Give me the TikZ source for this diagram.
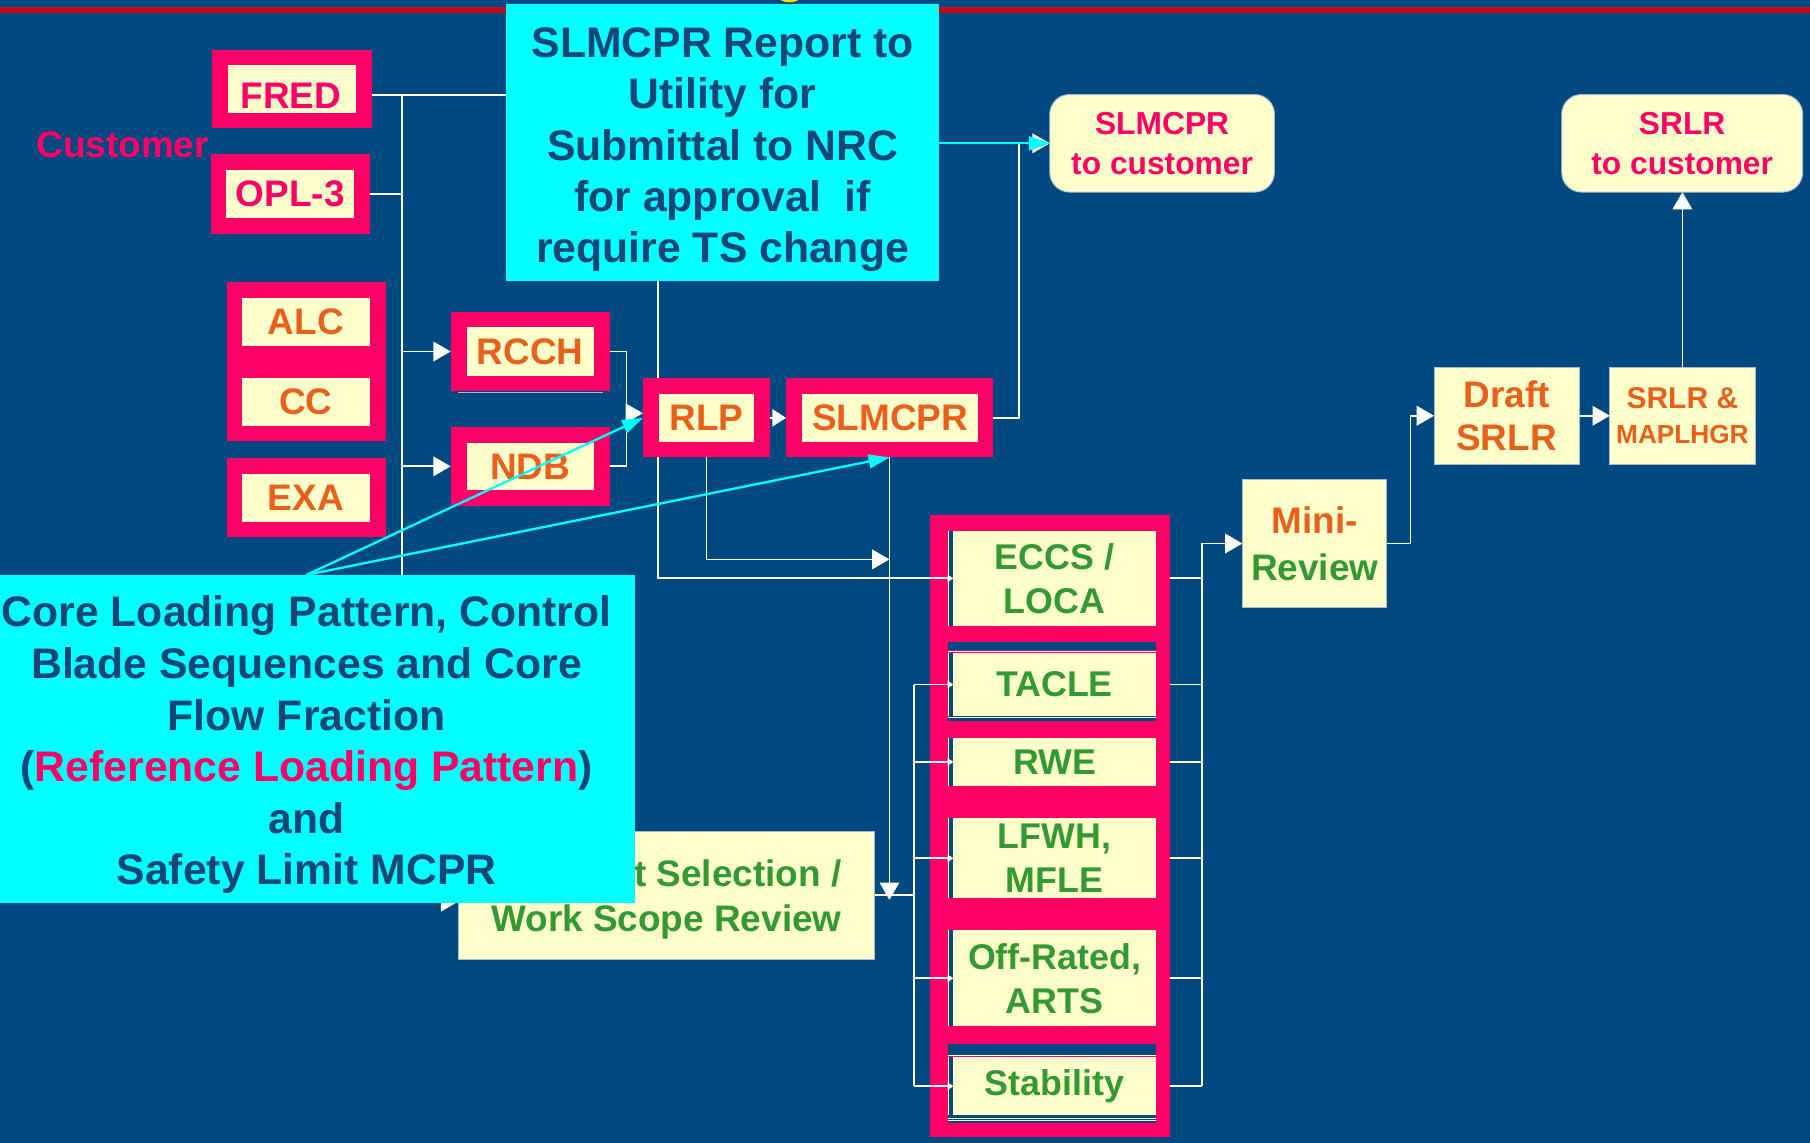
\documentclass[tikz,border=0pt]{standalone}
\usepackage{fontspec}
\setmainfont{Liberation Sans}
\usetikzlibrary{arrows.meta,calc}

\definecolor{bgblue}{RGB}{1,73,128}
\definecolor{hotpink}{RGB}{255,0,102}
\definecolor{cream}{RGB}{255,255,204}
\definecolor{aqua}{RGB}{0,255,255}
\definecolor{navytxt}{RGB}{22,70,118}
\definecolor{orangetxt}{RGB}{232,96,28}
\definecolor{greentxt}{RGB}{51,153,51}
\definecolor{rulered}{RGB}{200,8,20}
\definecolor{edgegray}{RGB}{170,186,206}
\definecolor{sunyellow}{RGB}{255,214,0}

\newcommand\fsz[2]{\fontsize{#1}{#2}\selectfont\bfseries}

\pgfdeclarelayer{base}
\pgfdeclarelayer{wires}
\pgfdeclarelayer{upper}
\pgfsetlayers{base,wires,main,upper}

\begin{document}
\begin{tikzpicture}[x=1pt,y=-1pt,
  pinkframe/.style={fill=hotpink, draw=none, inner sep=0pt, outer sep=0pt, rectangle},
  card/.style={fill=cream, draw=none, inner sep=0pt, outer sep=0pt, rectangle,
    align=center, font=\fsz{32pt}{38pt}},
  cell/.style={card, text=greentxt, font=\fsz{31pt}{38pt}, minimum width=175pt},
  plate/.style={fill=cream, draw=edgegray, line width=0.8pt, inner sep=0pt,
    outer sep=0pt, rectangle, align=center},
  wire/.style={draw=white, line width=1.5pt},
  bigtip/.style={-{Triangle[length=15pt,width=17pt]}},
  smalltip/.style={-{Triangle[length=5pt,width=6pt]}},
  ray/.style={draw=aqua, line width=2pt, -{Triangle[length=18pt,width=12pt]}},
  aquanote/.style={fill=aqua, draw=none, inner sep=0pt, outer sep=0pt, rectangle},
  notetext/.style={text=navytxt, align=center, inner sep=0pt},
]
\useasboundingbox (0,0) rectangle (1568,990);

\begin{pgfonlayer}{base}
  \fill[bgblue] (0,0) rectangle (1568,990);
  \fill[rulered] (0,6.4) rectangle (1568,11);
  \fill[sunyellow] (684,-2) ellipse (9pt and 4pt);
\end{pgfonlayer}

% ---------- customer inputs ----------
\node[text=hotpink, font=\fsz{32pt}{38pt}, inner sep=0pt] (custlabel) at (106.25,125) {Customer};

\node[pinkframe, minimum width=138pt, minimum height=68pt] (fredo) at (253,77) {};
\node[card, minimum width=111pt, minimum height=41pt] (fred) at (253,77) {};
\node[text=hotpink, font=\fsz{32pt}{38pt}, inner sep=0pt] (fredtext) at (252,83) {FRED};

\node[pinkframe, minimum width=137.5pt, minimum height=68.7pt] (oplo) at (251.75,168) {};
\node[card, text=hotpink, minimum width=111pt, minimum height=41pt] (opl) at (251.5,168) {OPL-3};

% ---------- code inputs ----------
\node[pinkframe, minimum width=138pt, minimum height=138pt] (alcco) at (265.5,313.4) {};
\node[card, text=orangetxt, minimum width=111pt, minimum height=41.5pt] (alc) at (265,278.8) {ALC};
\node[card, text=orangetxt, minimum width=111pt, minimum height=41.5pt] (cc) at (265,348) {CC};

\node[pinkframe, minimum width=138pt, minimum height=68.5pt] (exao) at (265.5,431) {};
\node[card, text=orangetxt, minimum width=111pt, minimum height=41.5pt] (exa) at (265,431.4) {EXA};

\node[pinkframe, minimum width=138pt, minimum height=68.5pt] (rccho) at (459.4,304.5) {};
\node[card, text=orangetxt, minimum width=110pt, minimum height=41.8pt] (rcch) at (459.4,304.6) {RCCH};
\draw[edgegray, line width=0.8pt] ([xshift=6pt,yshift=-1pt]rccho.south west) -- ([xshift=-6pt,yshift=-1pt]rccho.south east);

\node[pinkframe, minimum width=138pt, minimum height=68.7pt] (ndbo) at (459.4,404) {};
\node[card, text=orangetxt, minimum width=110pt, minimum height=41.2pt] (ndb) at (459.4,404) {NDB};

\node[pinkframe, minimum width=110.4pt, minimum height=68.4pt] (rlpo) at (612.1,362) {};
\node[card, text=orangetxt, minimum width=83pt, minimum height=41.6pt] (rlp) at (612.1,362) {RLP};

\node[pinkframe, minimum width=179pt, minimum height=68.4pt] (slmo) at (770.5,362) {};
\node[card, text=orangetxt, minimum width=152pt, minimum height=41.6pt] (slm) at (771,362) {SLMCPR};

% ---------- deliverables ----------
\node[plate, rounded corners=17pt, text=hotpink, font=\fsz{27.5pt}{34.5pt},
  minimum width=194.6pt, minimum height=84.5pt] (custa) at (1006.7,124.15) {SLMCPR\\to customer};
\node[plate, rounded corners=17pt, text=hotpink, font=\fsz{27.5pt}{34.5pt},
  minimum width=208.7pt, minimum height=84.5pt] (custb) at (1457.25,124.15) {SRLR\\to customer};

\node[plate, text=orangetxt, font=\fsz{32pt}{38pt}, minimum width=125.7pt,
  minimum height=84.5pt] (draft) at (1305.15,360.15) {Draft\\SRLR};
\node[plate, text=orangetxt, font=\fsz{26pt}{31pt}, minimum width=125.7pt,
  minimum height=84.5pt] (srlrm) at (1457.45,360.15) {SRLR \&\\{\fontsize{22.7pt}{31pt}\selectfont MAPLHGR}};
\node[plate, font=\fsz{32pt}{41pt}, minimum width=125.2pt, minimum height=111.3pt]
  (mini) at (1138.9,470.85) {\textcolor{orangetxt}{Mini-}\\\textcolor{greentxt}{Review}};

\node[plate, minimum width=360.6pt, minimum height=111pt] (wsr) at (577.3,775.5) {};
\node[text=greentxt, font=\fsz{32pt}{39pt}, align=right, inner sep=0pt] (wsrtext)
  at (577.3,779.5) {t Selection /\\Work Scope Review};

% ---------- analysis column ----------
\node[pinkframe, minimum width=207.5pt, minimum height=539pt] (colm) at (909.75,715.5) {};
\node[cell, minimum height=82pt] (eccs) at (913.5,501) {ECCS /\\LOCA};
\node[cell, minimum height=54pt] (tacle) at (913.5,593) {TACLE};
\node[cell, minimum height=42pt] (rwe) at (913.5,660) {RWE};
\node[cell, minimum height=69pt] (lfwh) at (913.5,743.5) {LFWH,\\MFLE};
\node[cell, minimum height=83pt] (offr) at (913.5,847.5) {Off-Rated,\\ARTS};
\node[cell, minimum height=50pt] (stab) at (913.5,941) {Stability};

\fill[bgblue] (821,556) rectangle (1001,563);
\fill[bgblue] (821,620) rectangle (1001,625);
\fill[bgblue] (821,904) rectangle (1001,914);
\fill[bgblue] (821,966) rectangle (1001,973);
\foreach \y in {564.5,621.5,914.5,968.5,971} {
  \draw[white, line width=0.8pt] (821,\y) -- (1001,\y);
}
\foreach \n in {eccs,tacle,rwe,lfwh,offr,stab} {
  \fill[bgblue] ([xshift=-5pt]\n.north west) rectangle (\n.south west);
  \draw[white, line width=0.8pt] ([xshift=-4.2pt]\n.north west) -- ([xshift=-4.2pt]\n.south west);
}

% ---------- junction points ----------
\coordinate (jA) at (348.3,82.6);
\coordinate (jB) at (570,82.6);
\coordinate (jC) at (542.8,0);
\coordinate (jD) at (882.7,0);
\coordinate (jE) at (0,484.6);
\coordinate (jG) at (792,0);
\coordinate (jH) at (1041.5,0);
\coordinate (jI) at (1222,0);
\coordinate (wsrin) at ($(wsr.west)+(0,5.5)$);
\coordinate (rlpin) at ($(rlpo.west)+(0,-4)$);
\coordinate (jF) at ($(slmo.south |- wsr.east)+(0,4)$);

% ---------- connectors (behind the boxes) ----------
\begin{pgfonlayer}{wires}
  \draw[wire, line cap=rect] ([yshift=-5.6pt]fredo.east) -- (jB) -- (jB |- eccs.west);
  \draw[wire] (oplo.east) -- (oplo.east -| jA);
  \draw[wire, bigtip] (jA) -- (jA |- wsrin) -- (wsrin);
  \draw[wire, bigtip] (jA |- rccho.west) -- (rccho.west);
  \draw[wire, bigtip] (jA |- ndbo.west) -- (ndbo.west);
  \draw[wire] (rccho.east) -- (rccho.east -| jC) -- (ndbo.east -| jC) -- (ndbo.east);
  \draw[wire, bigtip] (rlpin -| jC) -- (rlpin);
  \draw[wire, -{Triangle[length=12pt,width=15pt]}] (rlpo.east) -- (slmo.west);
  \draw[wire, bigtip] (slmo.east) -- (slmo.east -| jD) -- (jD |- custa.west) -- (custa.west);
  \draw[wire, bigtip] (rlpo.south) -- (rlpo.south |- jE) -- (slmo.south |- jE);
  \draw[wire, bigtip] (slmo.south) -- (jF);
  \draw[wire] (wsr.east) -- (wsr.east -| jG);
  \draw[wire] (jG |- tacle.west) -- (jG |- stab.west);
  \foreach \n in {eccs,tacle,rwe,lfwh,offr,stab} {
    \draw[wire] (\n.east -| colm.east) -- (\n.east -| jH);
  }
  \draw[wire, bigtip] (jH |- stab.east) -- (jH |- mini.west) -- (mini.west);
  \draw[wire, bigtip] (mini.east) -- (mini.east -| jI) -- (jI |- draft.west) -- (draft.west);
  \draw[wire, bigtip] (draft.east) -- (srlrm.west);
  \draw[wire, bigtip] (srlrm.north) -- (srlrm.north |- custb.south);
\end{pgfonlayer}

% ---------- feeds into the analysis column ----------
\draw[wire, smalltip, line cap=rect] (jB |- eccs.west) -- (eccs.west);
\foreach \n in {tacle,rwe,lfwh,offr,stab} {
  \draw[wire, smalltip] (jG |- \n.west) -- (\n.west);
}

% ---------- call-out notes ----------
\begin{pgfonlayer}{upper}
  \node[aquanote, minimum width=375.4pt, minimum height=239.9pt] (topnote) at (626.1,123.45) {};
  \node[notetext, font=\fsz{37pt}{44.4pt}] (toptext) at (626,129.7)
    {SLMCPR Report to\\Utility for\\Submittal to NRC\\for approval~ if\\require TS change};
  \node[aquanote, minimum width=550pt, minimum height=284pt] (lownote) at (275,640) {};
  \node[notetext, font=\fsz{37pt}{44.7pt}] (lowtext) at (265.6,645.3)
    {Core Loading Pattern, Control\\Blade Sequences and Core\\Flow Fraction\\
     (\textcolor{hotpink}{Reference Loading Pattern})\\and\\Safety Limit MCPR};
  \coordinate (kA) at (265.6,498);
  \draw[ray] (topnote.east |- custa.west) -- (custa.west);
  \draw[ray] (kA) -- (rlpo.west);
  \draw[ray] (kA) -- (slmo.south);
\end{pgfonlayer}
\end{tikzpicture}
\end{document}
